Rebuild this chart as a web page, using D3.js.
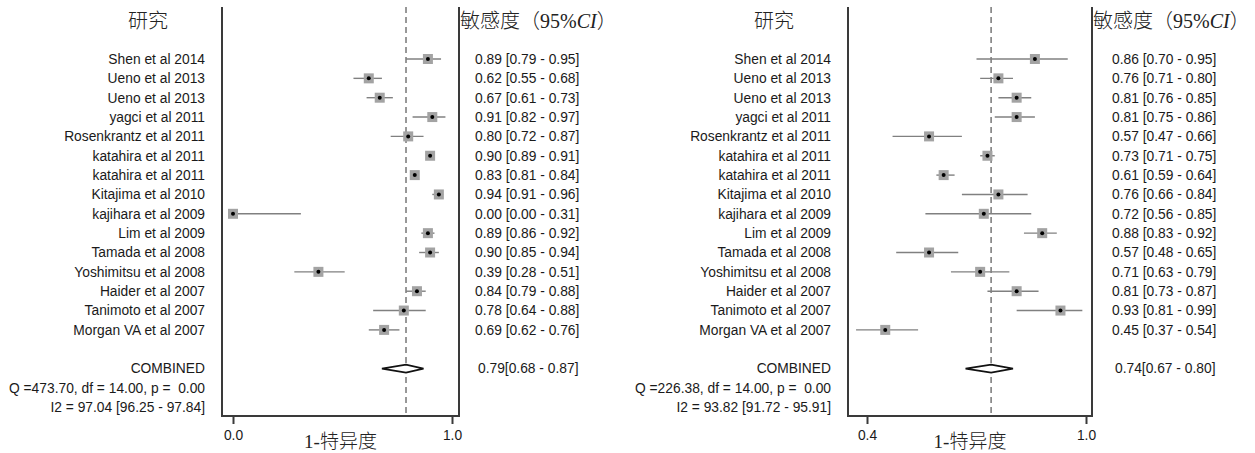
<!DOCTYPE html>
<html>
<head>
<meta charset="utf-8">
<script src="https://cdn.jsdelivr.net/npm/d3@7"></script>
<style>
  body { margin: 0; background: #fff; }
  svg { display: block; }
</style>
</head>
<body>
<div id="graph"></div>
<script>
'use strict';

// study names (same for both panels)
const studies = ['Shen et al 2014', 'Ueno et al 2013', 'Ueno et al 2013', 'yagci et al 2011',
    'Rosenkrantz et al 2011', 'katahira et al 2011', 'katahira et al 2011', 'Kitajima et al 2010',
    'kajihara et al 2009', 'Lim et al 2009', 'Tamada et al 2008', 'Yoshimitsu et al 2008',
    'Haider et al 2007', 'Tanimoto et al 2007', 'Morgan VA et al 2007'];

// left panel
const sensEst = [0.89, 0.62, 0.67, 0.91, 0.80, 0.90, 0.83, 0.94, 0.00, 0.89, 0.90, 0.39, 0.84, 0.78, 0.69];
const sensLo  = [0.79, 0.55, 0.61, 0.82, 0.72, 0.89, 0.81, 0.91, 0.00, 0.86, 0.85, 0.28, 0.79, 0.64, 0.62];
const sensHi  = [0.95, 0.68, 0.73, 0.97, 0.87, 0.91, 0.84, 0.96, 0.31, 0.92, 0.94, 0.51, 0.88, 0.88, 0.76];
const sensPooled = [0.79, 0.68, 0.87];
const sensStats = ['Q =473.70, df = 14.00, p =  0.00', 'I2 = 97.04 [96.25 - 97.84]'];
const sensTicks = [0.0, 1.0];

// right panel
const specEst = [0.86, 0.76, 0.81, 0.81, 0.57, 0.73, 0.61, 0.76, 0.72, 0.88, 0.57, 0.71, 0.81, 0.93, 0.45];
const specLo  = [0.70, 0.71, 0.76, 0.75, 0.47, 0.71, 0.59, 0.66, 0.56, 0.83, 0.48, 0.63, 0.73, 0.81, 0.37];
const specHi  = [0.95, 0.80, 0.85, 0.86, 0.66, 0.75, 0.64, 0.84, 0.85, 0.92, 0.65, 0.79, 0.87, 0.99, 0.54];
const specPooled = [0.74, 0.67, 0.80];
const specStats = ['Q =226.38, df = 14.00, p =  0.00', 'I2 = 93.82 [91.72 - 95.91]'];
const specTicks = [0.4, 1.0];

const width = 1255;
const height = 453;
const sans = '"Liberation Sans", Arial, sans-serif';
const cjk = '"Noto Sans CJK SC", sans-serif';
const serif = '"Liberation Serif", "Times New Roman", serif';
const fs = '13.8px ';

const svg = d3.select('#graph')
    .append('svg')
    .attr('width', width)
    .attr('height', height);

svg.append('rect').attr('width', width).attr('height', height).attr('fill', '#fff');

// rows: 0..14 studies, 16 combined, 17/18 stats
const y = d3.scaleLinear().domain([0, 18]).range([59, 407.3]);

const fmt = d3.format('.2f');

function panel(p) {
    const g = svg.append('g');
    const x = d3.scaleLinear().domain(p.domain).range(p.range);
    const top = 7, bottom = 416;

    // header texts
    g.append('text')
        .attr('x', p.labelEnd - 57).attr('y', 21).attr('dy', '0.35em')
        .attr('text-anchor', 'middle')
        .style('font', '300 20px ' + cjk).attr('fill', '#222')
        .text('研究');

    const head = g.append('text')
        .attr('x', p.boxRight + 1).attr('y', 21).attr('dy', '0.35em')
        .style('font', '300 20px ' + cjk).attr('fill', '#222');
    head.append('tspan').text('敏感度（');
    head.append('tspan').style('font-family', serif).style('font-weight', 'normal').text('95%');
    head.append('tspan').style('font-family', serif).style('font-weight', 'normal').style('font-style', 'italic').text('CI');
    head.append('tspan').text('）');

    // box
    g.append('path')
        .attr('d', `M${p.boxLeft},${top}V${bottom}H${p.boxRight}V${top}`)
        .attr('fill', 'none')
        .attr('stroke', '#3a3a3a')
        .attr('stroke-width', 2);

    // pooled reference line
    g.append('line')
        .attr('x1', x(p.pooled[0])).attr('x2', x(p.pooled[0]))
        .attr('y1', top).attr('y2', bottom)
        .attr('stroke', '#777')
        .attr('stroke-width', 1.5)
        .attr('stroke-dasharray', '6,4');

    const rows = studies.map((s, i) => ({ name: s, est: p.est[i], lo: p.lo[i], hi: p.hi[i], i: i }));

    // study labels
    g.append('g').selectAll('text')
        .data(rows)
        .join('text')
        .attr('x', p.labelEnd)
        .attr('y', d => y(d.i))
        .attr('dy', '0.35em')
        .attr('text-anchor', 'end')
        .style('font', fs + sans)
        .attr('fill', '#1a1a1a')
        .text(d => d.name);

    // CI lines
    g.append('g').selectAll('line')
        .data(rows)
        .join('line')
        .attr('x1', d => x(d.lo)).attr('x2', d => x(d.hi))
        .attr('y1', d => y(d.i)).attr('y2', d => y(d.i))
        .attr('stroke', '#808080')
        .attr('stroke-width', 1.4);

    // squares
    g.append('g').selectAll('rect')
        .data(rows)
        .join('rect')
        .attr('x', d => x(d.est) - 5).attr('y', d => y(d.i) - 5)
        .attr('width', 10).attr('height', 10)
        .attr('fill', '#a3a3a3');

    g.append('g').selectAll('circle')
        .data(rows)
        .join('circle')
        .attr('cx', d => x(d.est)).attr('cy', d => y(d.i))
        .attr('r', 2)
        .attr('fill', '#000');

    // values
    g.append('g').selectAll('text')
        .data(rows)
        .join('text')
        .attr('x', p.valueX)
        .attr('y', d => y(d.i))
        .attr('dy', '0.35em')
        .style('font', fs + sans)
        .attr('fill', '#1a1a1a')
        .text(d => `${fmt(d.est)} [${fmt(d.lo)} - ${fmt(d.hi)}]`);

    // combined
    const cy = y(16);
    g.append('text')
        .attr('x', p.labelEnd).attr('y', cy).attr('dy', '0.35em')
        .attr('text-anchor', 'end')
        .style('font', fs + sans).attr('fill', '#1a1a1a')
        .text('COMBINED');

    g.append('path')
        .attr('d', `M${x(p.pooled[1])},${cy}L${x(p.pooled[0])},${cy - 4}L${x(p.pooled[2])},${cy}L${x(p.pooled[0])},${cy + 4}Z`)
        .attr('fill', '#fff')
        .attr('stroke', '#111')
        .attr('stroke-width', 1.6);

    g.append('text')
        .attr('x', p.valueX + 3).attr('y', cy).attr('dy', '0.35em')
        .style('font', fs + sans).attr('fill', '#1a1a1a')
        .text(`${fmt(p.pooled[0])}[${fmt(p.pooled[1])} - ${fmt(p.pooled[2])}]`);

    g.append('g').selectAll('text')
        .data(p.stats)
        .join('text')
        .attr('x', p.labelEnd)
        .attr('y', (d, i) => y(17 + i))
        .attr('dy', '0.35em')
        .attr('text-anchor', 'end')
        .attr('xml:space', 'preserve')
        .style('white-space', 'pre')
        .style('font', fs + sans)
        .attr('fill', '#1a1a1a')
        .text(d => d);

    // x axis
    const axis = g.append('g')
        .attr('transform', `translate(0,${bottom})`)
        .call(d3.axisBottom(x).tickValues(p.ticks).tickFormat(d3.format('.1f')).tickSize(8).tickPadding(6));
    axis.select('.domain').remove();
    axis.selectAll('.tick line').attr('stroke', '#3a3a3a').attr('stroke-width', 2);
    axis.selectAll('.tick text').style('font', fs + sans).attr('fill', '#1a1a1a');

    const xl = g.append('text')
        .attr('x', (p.boxLeft + p.boxRight) / 2).attr('y', 441).attr('dy', '0.35em')
        .attr('text-anchor', 'middle')
        .style('font', '300 19px ' + cjk).attr('fill', '#222');
    xl.append('tspan').style('font-family', serif).style('font-weight', 'normal').text('1-');
    xl.append('tspan').text('特异度');
}

panel({
    est: sensEst, lo: sensLo, hi: sensHi, pooled: sensPooled, stats: sensStats, ticks: sensTicks,
    domain: [0, 1], range: [233, 452],
    labelEnd: 205, boxLeft: 222, boxRight: 459, valueX: 475
});

panel({
    est: specEst, lo: specLo, hi: specHi, pooled: specPooled, stats: specStats, ticks: specTicks,
    domain: [0.4, 1], range: [867, 1086],
    labelEnd: 831, boxLeft: 848, boxRight: 1092, valueX: 1112
});
</script>
</body>
</html>
